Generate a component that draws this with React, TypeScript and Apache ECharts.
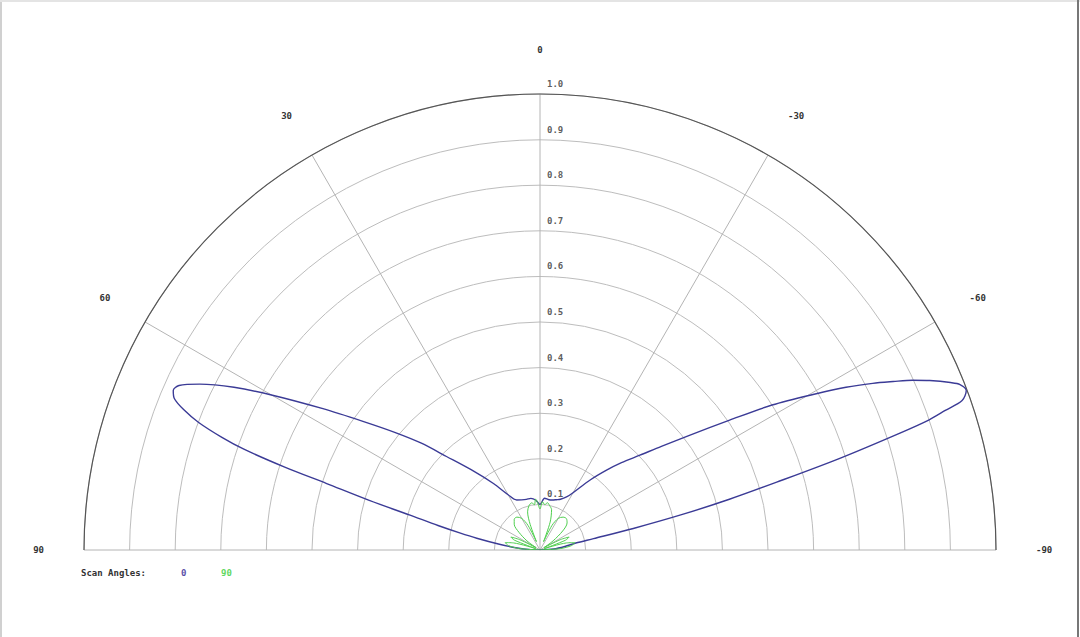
import React, { useEffect, useRef } from 'react';
import * as echarts from 'echarts';

// angle in degrees (positive = left of vertical), radius normalised 0..1
const blueAngles = [
  -90, -86, -82, -79, -78, -77, -76, -75, -74, -73, -72, -71.5, -71, -70.5, -69.5, -68.5, -67.8,
  -66.5, -65.5, -64.5, -63.4, -62, -60.5, -58, -55.6, -52.5, -49.5, -46.5, -43, -39.8, -35.5, -30,
  -26.6, -22, -18, -14, -10, -5, 0, 5, 10, 15, 20, 25, 30, 35, 40, 45, 48, 51, 54, 57, 60, 62, 64,
  65.5, 66.5, 67.5, 68.5, 69.5, 70.5, 71.2, 72, 72.7, 73.8, 75, 76.5, 78, 79.5, 82, 85, 88, 90,
];
const blueValues = [
  0, 0.03, 0.055, 0.08, 0.12, 0.21, 0.32, 0.43, 0.54, 0.686, 0.83, 0.9, 0.94, 0.982, 0.998, 0.99, 0.972,
  0.932, 0.898, 0.858, 0.816, 0.76, 0.696, 0.6, 0.504, 0.413, 0.35, 0.302, 0.262, 0.228, 0.188, 0.145,
  0.13, 0.12, 0.116, 0.113, 0.112, 0.114, 0.1, 0.11, 0.115, 0.115, 0.117, 0.121, 0.14, 0.178, 0.225, 0.29,
  0.35, 0.41, 0.48, 0.57, 0.68, 0.76, 0.83, 0.87, 0.877, 0.868, 0.84, 0.8, 0.74, 0.686, 0.59, 0.49, 0.39,
  0.295, 0.23, 0.18, 0.141, 0.09, 0.05, 0.02, 0,
];

const greenAngles = [
  -90, -86, -82, -78, -75, -72, -69, -66, -63, -59, -55, -50, -45, -40, -35, -30, -26, -23, -20, -16,
  -12, -9, -6, -3, 0, 3, 5, 7, 10, 14, 18, 21, 23, 26, 30, 35, 40, 45, 50, 55, 59, 63, 66, 69, 72, 75,
  78, 82, 86, 90,
];
const greenValues = [
  0, 0.045, 0.07, 0.078, 0.06, 0.01, 0.06, 0.07, 0.05, 0.01, 0.035, 0.065, 0.084, 0.09, 0.088, 0.08, 0.06,
  0.02, 0.065, 0.092, 0.1, 0.105, 0.1, 0.106, 0.09, 0.105, 0.112, 0.1, 0.105, 0.1, 0.088, 0.06, 0.02, 0.06,
  0.08, 0.088, 0.088, 0.08, 0.06, 0.035, 0.01, 0.05, 0.07, 0.06, 0.01, 0.06, 0.078, 0.07, 0.045, 0,
];

const radiusTicks = [0.1, 0.2, 0.3, 0.4, 0.5, 0.6, 0.7, 0.8, 0.9, 1.0];
const scanNames = ['0', '90'];
const scanColors = ['#3b3b96', '#4fcf4f'];

const FONT = '"DejaVu Sans Mono", "Liberation Mono", monospace';

const App: React.FC = () => {
  const chartRef = useRef<HTMLDivElement>(null);

  useEffect(() => {
    if (!chartRef.current) return;
    const chart = echarts.init(chartRef.current, undefined, { renderer: 'svg' });

    const option: echarts.EChartsOption = {
      animation: false,
      backgroundColor: '#ffffff',
      polar: { center: [540, 550], radius: 456 },
      angleAxis: {
        type: 'value',
        min: -90,
        max: 90,
        interval: 30,
        startAngle: 0,
        endAngle: 180,
        clockwise: false,
        axisLine: { show: true, lineStyle: { color: '#555', width: 1.2 } },
        axisTick: { show: false },
        splitLine: { show: true, lineStyle: { color: '#b4b4b4', width: 1 } },
        axisLabel: {
          show: true,
          margin: 40,
          fontFamily: FONT,
          fontSize: 9,
          fontWeight: 'bold',
          color: '#333',
        },
      },
      radiusAxis: {
        type: 'value',
        min: 0,
        max: 1,
        interval: 0.1,
        axisLine: { show: false },
        axisTick: { show: false },
        axisLabel: { show: false },
        splitLine: { show: true, lineStyle: { color: '#bdbdbd', width: 1 } },
      },
      series: [
        {
          name: scanNames[0],
          type: 'line',
          coordinateSystem: 'polar',
          symbol: 'none',
          smooth: 0.3,
          lineStyle: { color: scanColors[0], width: 1.4 },
          data: blueAngles.map((a, i) => [blueValues[i], a]),
          z: 3,
        },
        {
          name: scanNames[1],
          type: 'line',
          coordinateSystem: 'polar',
          symbol: 'none',
          smooth: 0.3,
          lineStyle: { color: scanColors[1], width: 1 },
          data: greenAngles.map((a, i) => [greenValues[i], a]),
          z: 4,
        },
        {
          // radial tick labels along the 0 degree spoke
          type: 'scatter',
          coordinateSystem: 'polar',
          symbolSize: 0,
          silent: true,
          data: radiusTicks.map((r) => [r, 0]),
          label: {
            show: true,
            position: 'right',
            distance: 7,
            offset: [0, -10],
            fontFamily: FONT,
            fontSize: 9,
            fontWeight: 'bold',
            color: '#333',
            formatter: (p: any) => Number(p.value[0]).toFixed(1),
          },
          z: 5,
        },
      ],
      graphic: [
        { type: 'line', shape: { x1: 1, y1: 0, x2: 1, y2: 637 }, style: { stroke: '#d0d0d0', lineWidth: 2 } },
        { type: 'line', shape: { x1: 0, y1: 1, x2: 1080, y2: 1 }, style: { stroke: '#e4e4e4', lineWidth: 2 } },
        { type: 'line', shape: { x1: 1078, y1: 0, x2: 1078, y2: 637 }, style: { stroke: '#777', lineWidth: 2 } },
        {
          type: 'text',
          left: 81,
          top: 568,
          style: { text: 'Scan Angles:', font: `bold 9px ${FONT}`, fill: '#333' },
        },
        {
          type: 'text',
          left: 181,
          top: 568,
          style: { text: scanNames[0], font: `bold 9px ${FONT}`, fill: '#5a50a8' },
        },
        {
          type: 'text',
          left: 221,
          top: 568,
          style: { text: scanNames[1], font: `bold 9px ${FONT}`, fill: '#5fd85f' },
        },
      ],
    };

    chart.setOption(option);
    return () => chart.dispose();
  }, []);

  return (
    <div
      ref={chartRef}
      style={{ position: 'fixed', left: 0, top: 0, width: 1080, height: 637, background: '#fff' }}
    />
  );
};

export default App;
